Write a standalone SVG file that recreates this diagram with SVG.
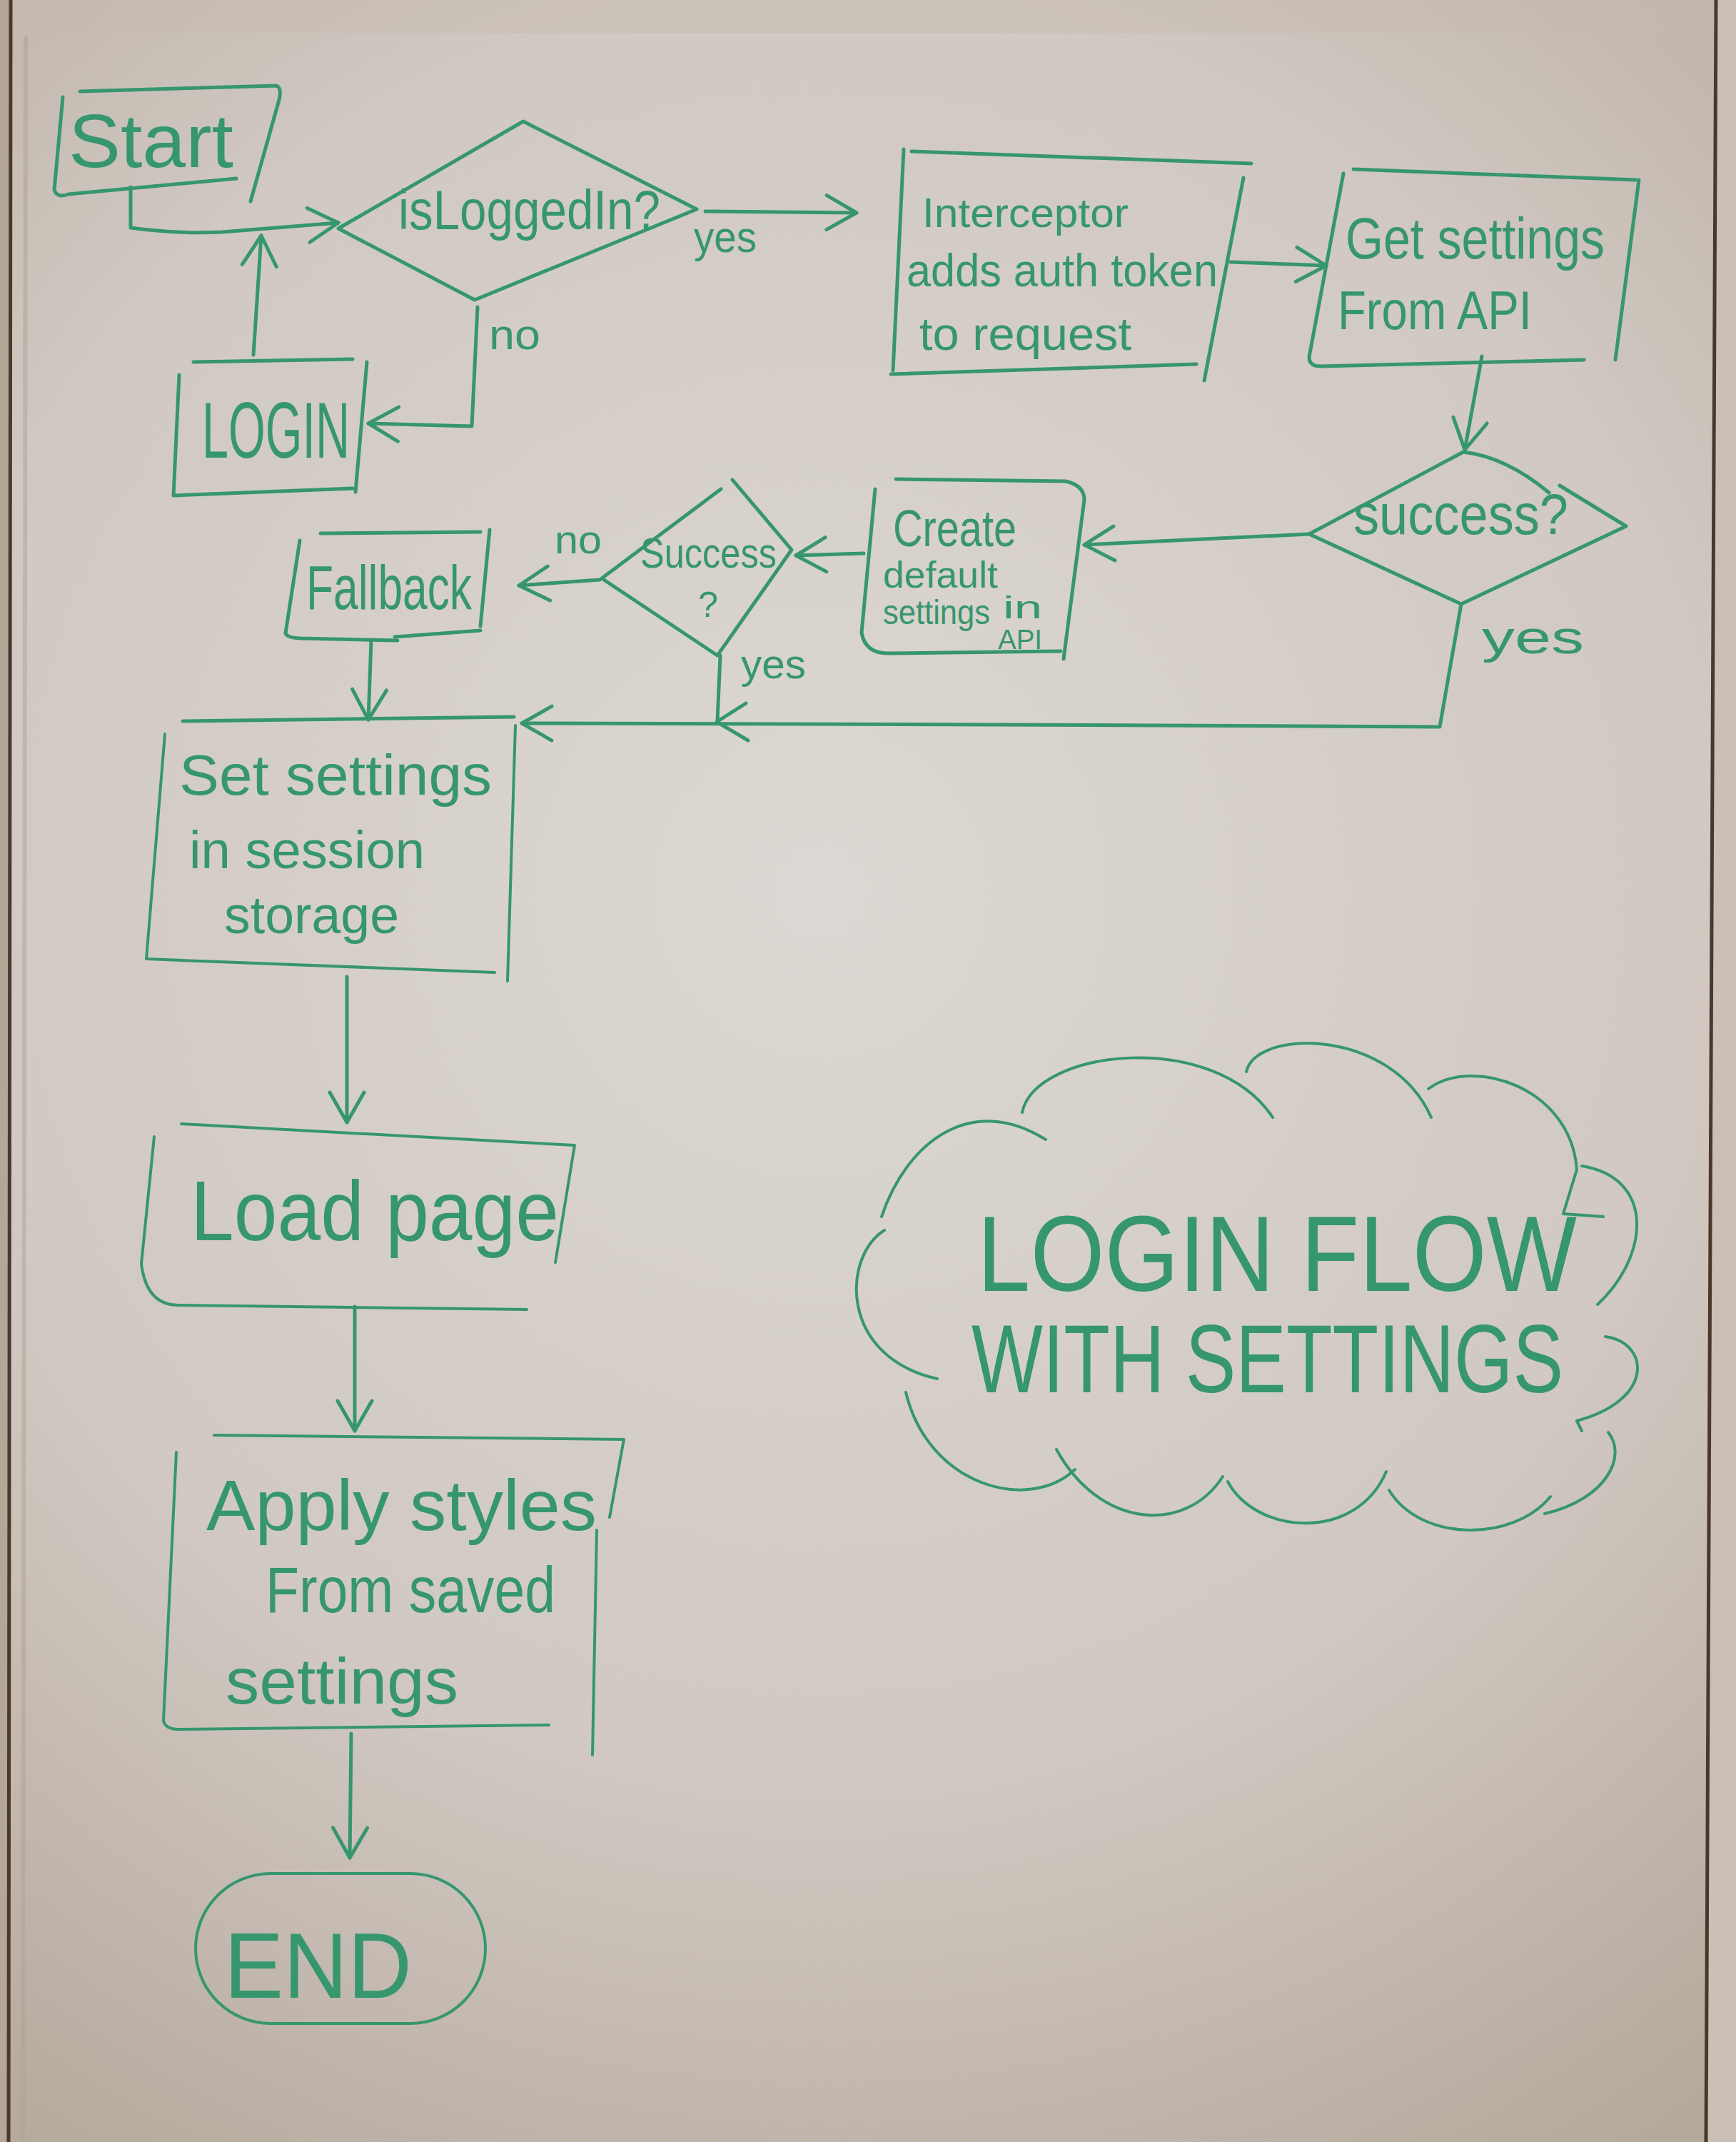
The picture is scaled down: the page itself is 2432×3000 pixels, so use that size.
<svg xmlns="http://www.w3.org/2000/svg" width="2432" height="3000" viewBox="0 0 2432 3000">
<defs>
<radialGradient id="bg" cx="1150" cy="1250" r="2100" gradientUnits="userSpaceOnUse">
<stop offset="0" stop-color="#ddd8d3"/>
<stop offset="0.6" stop-color="#d0c8c1"/>
<stop offset="1" stop-color="#b5a89c"/>
</radialGradient>
<marker id="ah" viewBox="-50 -30 60 60" refX="0" refY="0" markerWidth="60" markerHeight="60" markerUnits="userSpaceOnUse" orient="auto">
<path d="M-42,-24 L0,0 L-42,24" fill="none" stroke="#36966e" stroke-width="5" stroke-linecap="round" stroke-linejoin="round"/>
</marker>
<style>
.ink{fill:none;stroke:#36966e;stroke-width:5;stroke-linecap:round;stroke-linejoin:round}
.thin{stroke-width:4}
.t{font-family:"Liberation Sans",Arial,sans-serif;fill:#36966e}
.c{fill:none;stroke:#36966e;stroke-width:5;stroke-linecap:round;stroke-linejoin:round;marker-end:url(#ah)}
</style>
</defs>
<rect x="0" y="0" width="2432" height="3000" fill="url(#bg)"/>
<rect x="0" y="0" width="14" height="3000" fill="#b4a698"/>
<rect x="14" y="0" width="2420" height="46" fill="#c6bbb0" opacity="0.45"/>
<line x1="15" y1="0" x2="12" y2="3000" stroke="#4a382c" stroke-width="5"/>
<line x1="36" y1="50" x2="32" y2="3000" stroke="#b0a396" stroke-width="6" opacity="0.5"/>
<polygon points="2404,0 2432,0 2432,3000 2390,3000" fill="#cbc0b5"/>
<line x1="2404" y1="0" x2="2390" y2="3000" stroke="#4a382c" stroke-width="5"/>

<g id="connectors">
<path class="c" d="M183,262 L183,319 Q250,328 311,325 L474,312"/>
<path class="c" d="M988,296 L1200,298"/>
<path class="c" d="M669,430 L661,597 L516,593"/>
<path class="c" d="M355,497 L366,330"/>
<path class="c" d="M1724,367 L1858,372"/>
<path class="c" d="M2076,499 L2052,630"/>
<path class="c" d="M1834,748 L1519,763"/>
<path class="c" d="M1210,775 L1115,778"/>
<path class="c" d="M840,812 L727,820"/>
<path class="ink" d="M1009,918 L1005,1010"/>
<path class="ink" d="M1045,985 L1004,1011 L1048,1037"/>
<path class="c" d="M2047,846 L2017,1018 L1400,1015 L731,1013"/>
<path class="c" d="M520,897 L516,1008"/>
<path class="c" d="M486,1368 L486,1572"/>
<path class="c" d="M497,1830 L497,2004"/>
<path class="c" d="M492,2428 L490,2602"/>
</g>

<g id="start">
<path class="ink" d="M112,128 L387,120 Q395,122 391,140 L351,282"/>
<path class="ink" d="M88,136 L76,266 Q80,278 96,272 L331,250"/>
<text class="t" x="96" y="234" font-size="105" textLength="231" lengthAdjust="spacingAndGlyphs">Start</text>
</g>

<g id="isLoggedIn">
<path class="ink" d="M474,320 L733,170 L976,293 L665,420 Z"/>
<text class="t" x="558" y="321" font-size="78" textLength="367" lengthAdjust="spacingAndGlyphs">isLoggedIn?</text>
<text class="t" x="972" y="353" font-size="62" textLength="88" lengthAdjust="spacingAndGlyphs">yes</text>
<text class="t" x="685" y="489" font-size="60" textLength="72" lengthAdjust="spacingAndGlyphs">no</text>
</g>

<g id="login">
<path class="ink" d="M271,507 L494,503"/>
<path class="ink" d="M514,507 L498,689"/>
<path class="ink" d="M251,525 L243,694 L494,684"/>
<text class="t" x="283" y="641" font-size="112" textLength="207" lengthAdjust="spacingAndGlyphs">LOGIN</text>
</g>

<g id="interceptor">
<path class="ink" d="M1277,212 L1753,229"/>
<path class="ink" d="M1266,209 L1251,519"/>
<path class="ink" d="M1248,524 L1676,510"/>
<path class="ink" d="M1742,249 L1687,533"/>
<text class="t" x="1292" y="318" font-size="58" textLength="289" lengthAdjust="spacingAndGlyphs">Interceptor</text>
<text class="t" x="1270" y="401" font-size="64" textLength="436" lengthAdjust="spacingAndGlyphs">adds auth token</text>
<text class="t" x="1288" y="490" font-size="64" textLength="297" lengthAdjust="spacingAndGlyphs">to request</text>
</g>

<g id="getSettings">
<path class="ink" d="M1896,237 L2292,252"/>
<path class="ink" d="M1882,243 L1834,500 Q1834,513 1850,513 L2219,504"/>
<path class="ink" d="M2296,252 L2263,504"/>
<text class="t" x="1885" y="362" font-size="82" textLength="363" lengthAdjust="spacingAndGlyphs">Get settings</text>
<text class="t" x="1874" y="461" font-size="76" textLength="272" lengthAdjust="spacingAndGlyphs">From API</text>
</g>

<g id="success1">
<path class="ink" d="M2050,633 Q2110,640 2170,690 M2185,680 L2278,737 L2047,846 L1834,748 L2050,633"/>
<text class="t" x="1896" y="748" font-size="80" textLength="301" lengthAdjust="spacingAndGlyphs">success?</text>
<text class="t" x="2076" y="915" font-size="65" textLength="143" lengthAdjust="spacingAndGlyphs">yes</text>
</g>

<g id="createDefault">
<path class="ink" d="M1255,671 L1493,674 Q1519,680 1519,700 L1490,923"/>
<path class="ink" d="M1226,685 L1207,886 Q1212,915 1244,915 L1486,912"/>
<text class="t" x="1251" y="765" font-size="72" textLength="173" lengthAdjust="spacingAndGlyphs">Create</text>
<text class="t" x="1237" y="823" font-size="52" textLength="161" lengthAdjust="spacingAndGlyphs">default</text>
<text class="t" x="1237" y="874" font-size="48" textLength="150" lengthAdjust="spacingAndGlyphs">settings</text>
<text class="t" x="1405" y="866" font-size="44" textLength="55" lengthAdjust="spacingAndGlyphs">in</text>
<text class="t" x="1398" y="909" font-size="38" textLength="62" lengthAdjust="spacingAndGlyphs">API</text>
</g>

<g id="success2">
<path class="ink" d="M1026,672 L1109,770 L1005,918 L843,810 L1010,685"/>
<text class="t" x="897" y="795" font-size="60" textLength="191" lengthAdjust="spacingAndGlyphs">Success</text>
<text class="t" x="978" y="864" font-size="50" textLength="28" lengthAdjust="spacingAndGlyphs">?</text>
<text class="t" x="777" y="775" font-size="56" textLength="66" lengthAdjust="spacingAndGlyphs">no</text>
<text class="t" x="1038" y="950" font-size="58" textLength="91" lengthAdjust="spacingAndGlyphs">yes</text>
</g>

<g id="fallback">
<path class="ink" d="M449,747 L673,745"/>
<path class="ink" d="M686,742 L673,877"/>
<path class="ink" d="M420,757 L400,887 Q402,893 420,894 L557,897"/>
<path class="ink" d="M553,892 L673,883"/>
<text class="t" x="429" y="853" font-size="88" textLength="232" lengthAdjust="spacingAndGlyphs">Fallback</text>
</g>

<g id="setSettings">
<path class="ink" d="M256,1010 L720,1004"/>
<path class="ink thin" d="M722,1016 L711,1374"/>
<path class="ink thin" d="M231,1028 L205,1343 L693,1362"/>
<text class="t" x="251" y="1113" font-size="80" textLength="438" lengthAdjust="spacingAndGlyphs">Set settings</text>
<text class="t" x="265" y="1216" font-size="74" textLength="330" lengthAdjust="spacingAndGlyphs">in session</text>
<text class="t" x="314" y="1307" font-size="74" textLength="245" lengthAdjust="spacingAndGlyphs">storage</text>
</g>

<g id="loadPage">
<path class="ink thin" d="M254,1574 L805,1604 L778,1768"/>
<path class="ink thin" d="M216,1592 L198,1770 Q205,1828 250,1828 L738,1834"/>
<text class="t" x="267" y="1737" font-size="118" textLength="516" lengthAdjust="spacingAndGlyphs">Load page</text>
</g>

<g id="applyStyles">
<path class="ink thin" d="M300,2010 L874,2016 L854,2125"/>
<path class="ink thin" d="M836,2143 L830,2458"/>
<path class="ink thin" d="M247,2034 L229,2410 Q232,2422 250,2422 L769,2416"/>
<text class="t" x="289" y="2143" font-size="100" textLength="547" lengthAdjust="spacingAndGlyphs">Apply styles</text>
<text class="t" x="372" y="2258" font-size="90" textLength="406" lengthAdjust="spacingAndGlyphs">From saved</text>
<text class="t" x="316" y="2386" font-size="90" textLength="326" lengthAdjust="spacingAndGlyphs">settings</text>
</g>

<g id="end">
<rect class="ink thin" x="274" y="2624" width="406" height="210" rx="105" ry="105"/>
<text class="t" x="314" y="2798" font-size="130" textLength="263" lengthAdjust="spacingAndGlyphs">END</text>
</g>

<g id="title">
<path class="ink thin" d="M1239,1723 C1180,1760 1175,1900 1313,1931"/>
<path class="ink thin" d="M1235,1704 C1270,1600 1360,1530 1465,1596"/>
<path class="ink thin" d="M1432,1558 C1450,1470 1700,1440 1783,1565"/>
<path class="ink thin" d="M1746,1501 C1760,1440 1950,1440 2005,1565"/>
<path class="ink thin" d="M2001,1525 C2060,1480 2200,1520 2209,1638 L2190,1700 L2246,1704"/>
<path class="ink thin" d="M2216,1633 C2320,1650 2310,1760 2238,1827"/>
<path class="ink thin" d="M2249,1872 C2310,1880 2320,1960 2209,1990 L2216,2004"/>
<path class="ink thin" d="M2253,2006 C2280,2040 2250,2100 2164,2120"/>
<path class="ink thin" d="M2172,2096 C2120,2160 1990,2160 1946,2087"/>
<path class="ink thin" d="M1942,2061 C1900,2160 1760,2150 1720,2075"/>
<path class="ink thin" d="M1713,2068 C1660,2150 1540,2140 1480,2030"/>
<path class="ink thin" d="M1506,2058 C1440,2120 1300,2080 1269,1950"/>
<text class="t" x="1369" y="1808" font-size="150" textLength="840" lengthAdjust="spacingAndGlyphs">LOGIN FLOW</text>
<text class="t" x="1361" y="1950" font-size="135" textLength="829" lengthAdjust="spacingAndGlyphs">WITH SETTINGS</text>
</g>
</svg>
